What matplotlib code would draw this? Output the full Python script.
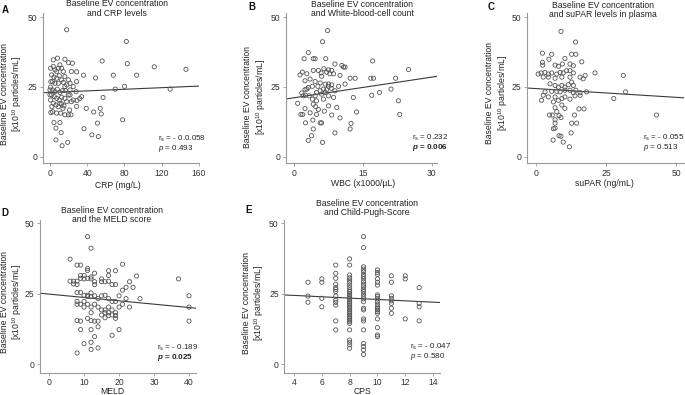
import matplotlib
matplotlib.use("Agg")
import matplotlib.pyplot as plt

plt.rcParams['font.family'] = ['Liberation Sans', 'DejaVu Sans']
plt.rcParams['mathtext.fontset'] = 'custom'
plt.rcParams['mathtext.rm'] = 'Liberation Sans'
plt.rcParams['mathtext.it'] = 'Liberation Sans:italic'
plt.rcParams['mathtext.bf'] = 'Liberation Sans:bold:italic'

# ---- data ----
crp_x = [17.9, 82, 56, 83, 112, 146, 93, 68, 49, 28.6, 80, 70, 129, 57, 55, 54, 52, 45, 47, 51,
         78, 36.5, 39, 34, 32, 29, 36, 28.6, 28, 28.6, 21, 22.5, 19.7, 19, 13, 6.4, 12, 6.4, 4.3,
         1, 2, 10.7, 16, 14, 18, 23, 23, 20, 16, 8, 24, 16, 16.5, 21.5, 25,
         0.7, 3.6, 5.4, 7.2, 9, 10.7, 12.5, 14.3, 1.8, 4.3, 7.2, 10, 12.5, 2.9, 5.4, 9, 14.3,
         0.7, 2.9, 5.4, 7.9, 10.7, 13.6, 1.8, 4.7, 7.2, 10, 12.5, 0.7, 3.6, 6.4, 9, 12.5, 16,
         2.9, 7.2, 11.5, 0, 0, 1, 16, 19.7, 21.5, 3.6, 18, 21.5, 25, 19.7, 10.7, 15]
crp_y = [45.5, 41.3, 34.3, 33.3, 32.2, 31.3, 29.2, 29.2, 28.2, 30.4, 25.2, 24.2, 24.2, 21.2, 15.3,
         17.3, 7.2, 7.8, 16.0, 12.0, 13.2, 10.0, 17.3, 21.5, 20.8, 20.1, 29.2, 26.9, 23.3, 18.0,
         16.7, 15.0, 15.0, 5.1, 3.9, 6.0, 8.6, 10.2, 12.2, 15.8, 17.9, 12.2, 15.0, 17.3, 19.7,
         19.7, 30.5, 33.7, 34.9, 35.3, 33.5, 25.1, 23.7, 23.9, 25.1,
         31.7, 32.3, 31.1, 30.5, 31.7, 32.9, 31.7, 30.5, 29.3, 28.5, 28.1, 29.0, 27.5, 26.9, 26.3,
         26.3, 26.6, 24.9, 23.9, 23.3, 24.2, 23.0, 23.7, 22.1, 21.5, 20.9, 20.3, 21.3, 20.3, 19.1,
         18.5, 17.9, 18.9, 20.9, 16.1, 15.6, 15.6, 23.9, 22.1, 26.9, 28.7, 27.5, 26.3, 34.7, 25.7,
         22.1, 20.3, 22.1, 19.1, 18.2]

wbc_x = [7.3, 6.2, 3.1, 2.2, 4.2, 4.6, 6.9, 17.1, 10.4, 8.9, 10.8, 11.1, 24.9, 6.5, 7.5, 8.2, 7.1,
         4.2, 5.3, 1.3, 1.8, 2.8, 5.9, 6.0, 7.8, 8.6, 10.0, 12.2, 13.3, 16.7, 17.3, 22.1, 2.4, 3.5,
         4.6, 5.7, 6.8, 7.5, 8.2, 11.1, 3.1, 4.0, 5.2, 2.8, 2.4, 6.4, 7.1, 8.1, 8.9, 21.1, 18.6,
         16.9, 1.7, 2.0, 2.5, 3.3, 4.6, 6.0, 7.5, 8.6, 12.9, 4.0, 4.9, 6.4, 22.7, 0.8, 4.2, 4.7,
         7.5, 9.3, 2.4, 5.3, 13.6, 6.6, 3.5, 1.9, 1.5, 4.9, 8.2, 10.0, 23.0, 4.1, 5.7, 6.0, 2.5,
         12.4, 4.2, 12.2, 8.9, 3.8, 3.1, 6.2, 4.9, 5.7, 6.8, 7.5, 9.7]
wbc_y = [45.2, 41.2, 37.3, 35.1, 35.1, 35.1, 35.1, 34.3, 32.7, 33.2, 32.1, 32.1, 31.2, 31.5, 31.1,
         30.9, 30.3, 30.9, 30.9, 29.3, 30.3, 29.7, 30.0, 28.8, 29.7, 29.7, 29.1, 28.1, 28.1, 28.1,
         28.1, 28.1, 27.2, 27.8, 26.9, 26.4, 26.0, 26.0, 25.7, 26.0, 24.8, 25.2, 25.2, 24.2, 24.0,
         24.2, 24.0, 24.5, 23.6, 24.2, 23.0, 22.0, 22.8, 21.8, 22.0, 21.8, 21.8, 22.4, 21.8, 21.2,
         21.2, 20.6, 20.0, 20.6, 20.0, 19.1, 18.8, 17.9, 18.2, 17.6, 17.2, 16.9, 16.0, 16.3, 15.7,
         15.1, 15.1, 15.1, 14.9, 13.9, 15.1, 13.1, 12.1, 12.1, 12.1, 11.9, 9.9, 9.9, 8.5, 7.5, 5.8,
         5.1, 23.0, 23.6, 23.0, 25.2, 25.2]

supar_x = [9, 14.2, 2.4, 5.7, 12.8, 14.3, 16.4, 2.4, 4.7, 10.4, 9.5, 12.2, 13.4, 2.5, 6.9, 8.1,
           21.1, 31.2, 17.6, 0.9, 1.9, 3.3, 4.5, 5.7, 7.5, 8.7, 9.8, 11, 12.2, 13.4, 2.7, 4.5, 6.9,
           9.3, 12.2, 15.8, 16.9, 12.8, 11.6, 13.4, 5.1, 6.9, 3.3, 5.7, 7.5, 8.7, 10.4, 12.2, 13.4,
           14.3, 15.8, 18.1, 32, 27.8, 2.7, 4.5, 6.9, 9.3, 10.4, 12.2, 14, 15.8, 6.3, 8.1, 2.1, 9.3,
           10.4, 15.4, 17.2, 6.9, 7.5, 4.9, 5.9, 8.3, 9, 43, 13.8, 6.9, 6.9, 12.8, 14.6, 6.3, 6.9,
           12.6, 8.3, 9, 6.2, 9.8, 12, 9.3, 10.4, 8.1]
supar_y = [44.9, 41.1, 37.1, 36.7, 36.7, 36.7, 34.0, 33.8, 34.9, 35.2, 33.2, 33.2, 32.6, 32.8, 32.8,
           32.4, 30.0, 29.1, 29.1, 29.6, 30.0, 30.2, 29.6, 30.0, 29.6, 30.2, 30.0, 30.8, 30.8, 30.0,
           28.5, 28.5, 28.1, 28.5, 28.5, 28.5, 27.9, 26.7, 25.8, 25.5, 26.1, 25.5, 23.2, 23.4, 23.4,
           23.2, 23.8, 23.8, 22.9, 23.8, 22.9, 23.2, 23.2, 20.8, 22.0, 21.4, 21.4, 20.8, 21.4, 20.6,
           21.8, 22.0, 19.6, 20.2, 20.2, 18.5, 17.3, 17.1, 17.1, 17.5, 16.1, 14.9, 14.9, 14.7, 14.0,
           14.9, 14.9, 13.2, 12.0, 12.0, 12.0, 10.0, 10.2, 8.5, 7.5, 7.3, 5.9, 5.2, 3.5, 25.5, 24.9,
           24.9]

meld_x = [11, 12, 6, 8, 9, 11, 11, 13, 17, 19, 21,
          6, 7, 7, 8, 8, 9, 9, 10, 10, 11, 12, 12, 13, 13, 15, 15, 16, 17, 17, 18, 19, 21, 22, 23,
          24, 25, 37,
          8, 9, 10, 11, 11, 12, 12, 13, 14, 15, 16, 17, 18, 19, 20, 21, 22, 23, 26, 40, 40,
          8, 8, 9, 10, 10, 11, 12, 12, 13, 14, 15, 16, 16, 17, 17, 18, 18, 19, 19, 19, 20, 17, 15,
          16,
          8, 9, 9, 12, 12, 13, 14, 14, 18, 20, 40, 10, 12, 12, 14, 8, 11, 13]
meld_y = [45.3, 41.2, 37.3, 35.2, 35.2, 34.0, 33.3, 32.3, 33.2, 33.2, 35.5,
          29.5, 29.5, 28.5, 29.5, 28.3, 30.5, 31.5, 30.3, 31.5, 30.5, 31.0, 30.3, 29.3, 28.3, 30.3,
          29.3, 29.3, 31.5, 29.5, 28.3, 28.3, 26.3, 27.3, 29.3, 27.3, 31.3, 30.3,
          25.5, 25.5, 24.5, 24.5, 24.0, 25.3, 24.0, 24.3, 23.3, 24.3, 24.5, 23.3, 22.3, 22.3, 24.3,
          21.3, 23.3, 20.3, 23.3, 24.3, 20.3,
          22.3, 21.3, 21.3, 20.3, 22.3, 21.3, 20.3, 18.3, 21.3, 20.3, 19.3, 19.3, 18.3, 20.3, 18.3,
          17.5, 19.3, 18.3, 17.3, 16.3, 20.3, 17.3, 17.5, 16.5,
          15.5, 15.3, 12.3, 15.5, 12.3, 15.3, 15.3, 13.3, 10.3, 12.3, 15.3, 7.3, 7.8, 5.3, 5.8, 4.0,
          16.3, 9.8]

cps_x = [5] * 3 + [6] * 4 + [7] * 13 + [8] * 34 + [9] * 26 + [10] * 20 + [11] * 8 + [12] * 3 + [13] * 4
cps_y = [29.1, 24.2, 22.0,
         30.3, 29.1, 23.4, 20.4,
         35.2, 32.3, 30.5, 28.4, 27.2, 26.6, 25.8, 24.2, 22.8, 22.0, 21.0, 15.4, 12.2,
         37.4, 35.2, 31.7, 30.7, 29.9, 29.1, 28.1, 27.2, 26.4, 25.8, 25.2, 24.6, 24.0, 23.4, 22.8,
         22.2, 21.6, 21.0, 20.4, 19.9, 19.3, 18.7, 18.1, 17.5, 16.9, 16.3, 15.7, 15.1, 14.5, 12.2,
         8.6, 7.8, 6.9, 5.7,
         45.3, 41.4, 34.6, 33.8, 32.9, 31.9, 31.1, 30.3, 29.3, 28.4, 27.5, 26.6, 25.8, 24.9, 24.0,
         23.2, 22.2, 19.9, 19.3, 16.1, 15.4, 12.2, 7.4, 6.3, 5.1, 3.5,
         33.5, 32.6, 31.9, 30.3, 29.1, 28.1, 24.6, 24.0, 23.2, 22.2, 21.3, 20.4, 19.9, 19.3, 18.7,
         18.1, 16.1, 13.0, 10.4, 9.8,
         31.4, 29.1, 24.3, 23.4, 22.5, 21.6, 19.9, 18.1,
         31.4, 30.3, 16.1,
         27.2, 21.6, 20.4, 15.4]

# regression lines (intercept, slope)
fit_crp = (23.0, 0.0143)
fit_wbc = (21.1, 0.247)
fit_supar = (24.4, -0.063)
fit_meld = (24.9, -0.119)
fit_cps = (25.4, -0.24)

titles = ['Baseline EV concentration\nand CRP levels',
          'Baseline EV concentration\nand White-blood-cell count',
          'Baseline EV concentration\nand suPAR levels in plasma',
          'Baseline EV concentration\nand the MELD score',
          'Baseline EV concentration\nand Child-Pugh-Score']
xlabels = ['CRP (mg/L)', 'WBC (x1000/\u00b5L)', 'suPAR (ng/mL)', 'MELD', 'CPS']
letters = ['A', 'B', 'C', 'D', 'E']
r_text = ['r$_\\mathrm{s}$ = - 0.0.058', 'r$_\\mathrm{s}$ = 0.232', 'r$_\\mathrm{s}$ = - 0.055',
          'r$_\\mathrm{s}$ = - 0.189', 'r$_\\mathrm{s}$ = - 0.047']
p_text = ['$p$ = 0.493', '$\\mathbf{p}$ = 0.006', '$p$ = 0.513', '$\\mathbf{p}$ = 0.025', '$p$ = 0.580']
p_bold = [False, True, False, True, False]
xticks = [[0, 40, 80, 120, 160], [0, 15, 30], [0, 25, 50], [0, 10, 20, 30, 40], [4, 6, 8, 10, 12, 14]]
ylabel = 'Baseline EV concentration\n[x10$^{10}$ particles/mL]'

W, H = 685, 395
fig = plt.figure(figsize=(W / 100, H / 100), dpi=100)

def fx(px):
    return px / W

def fy(py):
    return 1 - py / H

# layout in pixels: axes (left, top, right, bottom), limits, text spots
panels = [
    dict(x=crp_x, y=crp_y, fit=fit_crp, box=(42.7, 13, 199, 163), xlim=(-7.8, 160), ylim=(-2.3, 51.5),
         title=(117, 8.7), letter=(5, 10), ylab=(12, 94), xlab=(118, 185), stat=(158, 139)),
    dict(x=wbc_x, y=wbc_y, fit=fit_wbc, box=(286, 13, 437, 163), xlim=(-1.74, 31.1), ylim=(-2.3, 51.5),
         title=(362, 9), letter=(252, 7), ylab=(255.5, 97), xlab=(363, 183), stat=(412, 138)),
    dict(x=supar_x, y=supar_y, fit=fit_supar, box=(526.7, 13, 684, 163), xlim=(-3.2, 52.8), ylim=(-2.3, 51.5),
         title=(603, 10), letter=(491, 7), ylab=(497.5, 93), xlab=(604, 183), stat=(643, 138)),
    dict(x=meld_x, y=meld_y, fit=fit_meld, box=(40, 220, 196, 373.3), xlim=(-2.6, 42), ylim=(-3.2, 51.2),
         title=(112, 215), letter=(5, 213), ylab=(12, 302), xlab=(112, 391), stat=(157, 347.7)),
    dict(x=cps_x, y=cps_y, fit=fit_cps, box=(284.3, 220, 440, 373.3), xlim=(3.3, 14.5), ylim=(-3.2, 51.2),
         title=(366.7, 208), letter=(249, 210), ylab=(254, 303), xlab=(363, 391), stat=(410, 346.7)),
]

txt_c = '#222222'
fs = 6.2
for i, pn in enumerate(panels):
    l, t, r, b = pn['box']
    ax = fig.add_axes([fx(l), fy(b), (r - l) / W, (b - t) / H])
    ax.scatter(pn['x'], pn['y'], s=9, facecolors='none', edgecolors='#555555', linewidths=0.6, zorder=3)
    ax.axline((0, pn['fit'][0]), slope=pn['fit'][1], color='#3a3a3a', lw=0.8, zorder=2)
    ax.set_xlim(pn['xlim'])
    ax.set_ylim(pn['ylim'])
    ax.set_xticks(xticks[i])
    ax.set_yticks([0, 25, 50])
    for s in ['top', 'right']:
        ax.spines[s].set_visible(False)
    for s in ['left', 'bottom']:
        ax.spines[s].set_color('#9a9a9a')
        ax.spines[s].set_linewidth(0.8)
    ax.tick_params(length=2.5, width=0.6, color='#9a9a9a', pad=1.5, labelsize=fs, labelcolor='#333333')
    if i >= 3:
        ax.tick_params(axis='x', pad=1.0)
    ax.patch.set_alpha(0)

    fig.text(fx(pn['ylab'][0]), fy(pn['ylab'][1]), ylabel, rotation=90, ha='center', va='center',
             multialignment='center', fontsize=fs, color=txt_c, linespacing=1.15)
    fig.text(fx(pn['xlab'][0]), fy(pn['xlab'][1]), xlabels[i], ha='center', va='center',
             fontsize=fs, color=txt_c)
    fig.text(fx(pn['title'][0]), fy(pn['title'][1]), titles[i], ha='center', va='center',
             fontsize=fs, color=txt_c, linespacing=1.1)
    fig.text(fx(pn['letter'][0]), fy(pn['letter'][1]), letters[i], ha='center', va='center',
             fontsize=7, fontweight='bold', color='#111111')
    sx, sy = pn['stat']
    fig.text(fx(sx), fy(sy), r_text[i], ha='left', va='center', fontsize=5.8, color=txt_c)
    fig.text(fx(sx), fy(sy + 9.5), p_text[i], ha='left', va='center', fontsize=5.8, color=txt_c,
             fontweight='bold' if p_bold[i] else 'normal')

fig.savefig('out.png', dpi=100)
